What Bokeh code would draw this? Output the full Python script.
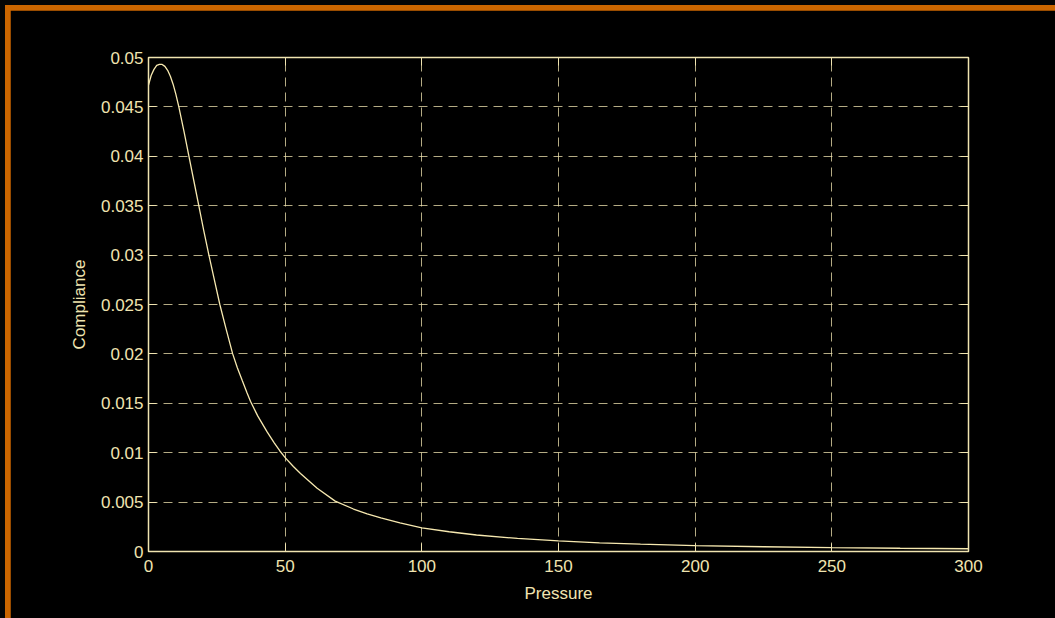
from bokeh.plotting import figure
from bokeh.models import LinearAxis, FixedTicker, Range1d
from bokeh.embed import file_html
from bokeh.resources import INLINE

# ---- data ----
pressure = [0, 1, 2, 3, 4, 5, 6, 7, 8, 9, 10, 11.1, 13, 14.8, 16.6, 18.4, 20.2,
            22.1, 24.1, 26.1, 28.4, 30.8, 32.5, 34.3, 36, 37.3, 40, 43.4, 46,
            48, 50, 53, 55.6, 61.7, 68.3, 75, 80, 85, 92, 100, 110, 120, 135,
            150, 165, 180, 200, 225, 250, 275, 300]
compliance = [0.0472, 0.0482, 0.0488, 0.0492, 0.0493, 0.0493, 0.0491, 0.0487,
              0.0481, 0.0473, 0.0463, 0.0450, 0.0425, 0.0400, 0.0375, 0.0350,
              0.0325, 0.0300, 0.0275, 0.0250, 0.0225, 0.0200, 0.0186, 0.0173,
              0.0161, 0.0152, 0.0137, 0.0121, 0.0110, 0.0102, 0.0095, 0.0086,
              0.0079, 0.0064, 0.0051, 0.0043, 0.0038, 0.0034, 0.0029, 0.0024,
              0.0020, 0.00167, 0.00132, 0.00107, 0.00088, 0.00074, 0.00060,
              0.00048, 0.00039, 0.00033, 0.00028]
x_ticks = [0, 50, 100, 150, 200, 250, 300]
y_ticks = [0, 0.005, 0.01, 0.015, 0.02, 0.025, 0.03, 0.035, 0.04, 0.045, 0.05]
x_label = "Pressure"
y_label = "Compliance"

FG = "#f0e4b0"
FONT = "Liberation Sans"
FS = "17px"
ORANGE = "#cc6600"

p = figure(width=1055, height=618, output_backend="svg", toolbar_location=None,
           x_range=Range1d(0, 300), y_range=Range1d(0, 0.05),
           min_border_left=138, min_border_right=97, min_border_top=47,
           min_border_bottom=77,
           styles={"border-left": "5px solid #050505",
                   "border-top": "5px solid #050505",
                   "padding-left": "5px", "padding-top": "5px",
                   "background-color": ORANGE})
p.background_fill_color = "black"
p.border_fill_color = "black"
p.outline_line_color = FG
p.outline_line_width = 1.5

p.line(pressure, compliance, line_color="#f7e9b0", line_width=1.3)

for ax in (p.xaxis[0], p.yaxis[0]):
    ax.axis_line_color = FG
    ax.major_tick_line_color = FG
    ax.major_tick_in = 8
    ax.major_tick_out = 0
    ax.minor_tick_line_color = None
    ax.major_label_text_color = FG
    ax.major_label_text_font = FONT
    ax.major_label_text_font_size = FS
    ax.axis_label_text_color = FG
    ax.axis_label_text_font = FONT
    ax.axis_label_text_font_size = FS
    ax.axis_label_text_font_style = "normal"

p.xaxis.ticker = FixedTicker(ticks=x_ticks)
p.yaxis.ticker = FixedTicker(ticks=y_ticks)
p.xaxis.axis_label = x_label
p.yaxis.axis_label = y_label
p.xaxis.major_label_standoff = 8
p.yaxis.major_label_standoff = 5
p.xaxis.axis_label_standoff = 9
p.yaxis.axis_label_standoff = 9

for loc in ("right", "above"):
    ax = LinearAxis(ticker=FixedTicker(ticks=y_ticks if loc == "right" else x_ticks))
    ax.axis_line_color = FG
    ax.major_tick_line_color = FG
    ax.major_tick_in = 8
    ax.major_tick_out = 0
    ax.minor_tick_line_color = None
    ax.major_label_text_alpha = 0
    ax.major_label_text_font_size = "8px"
    p.add_layout(ax, loc)

for g in (p.xgrid[0], p.ygrid[0]):
    g.grid_line_color = FG
    g.grid_line_alpha = 0.75
    g.grid_line_dash = "9 6"
    g.grid_line_width = 1

open("out.html", "w").write(file_html(p, INLINE))
